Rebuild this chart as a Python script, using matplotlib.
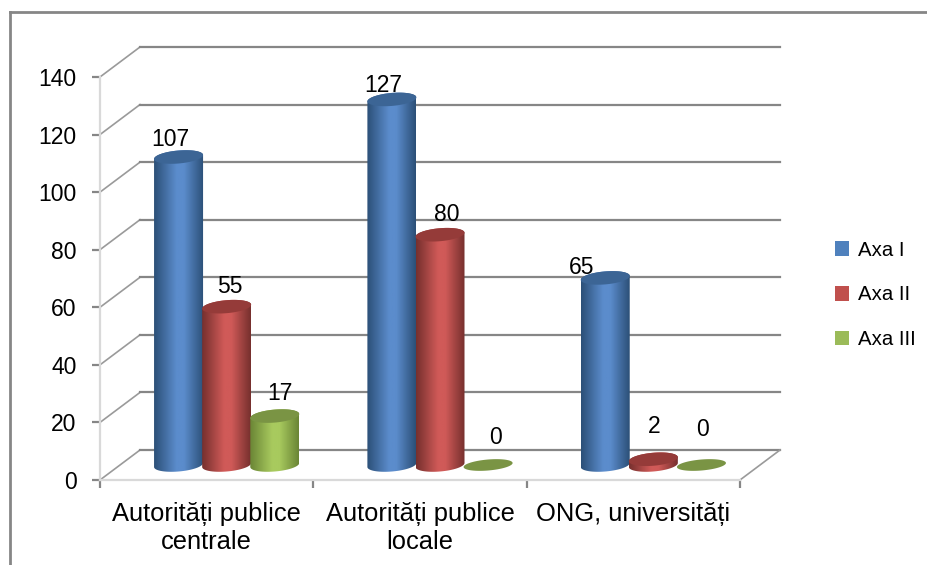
import numpy as np
import matplotlib
matplotlib.use('Agg')
import matplotlib.pyplot as plt
from matplotlib.colors import LinearSegmentedColormap
from matplotlib.lines import Line2D
from matplotlib.patches import Patch, Polygon

plt.rcParams['font.family'] = ['Liberation Sans', 'DejaVu Sans']

categories = ['Autorități publice\ncentrale', 'Autorități publice\nlocale', 'ONG, universități']
series_names = ['Axa I', 'Axa II', 'Axa III']
axa_1 = [107, 127, 65]
axa_2 = [55, 80, 2]
axa_3 = [17, 0, 0]
y_ticks = [0, 20, 40, 60, 80, 100, 120, 140]

# dark edge, bright middle, top ellipse, legend
colours = [('#2c5078', '#5b8ccc', '#3c6595', '#4f81bd'),
           ('#77302e', '#d05a58', '#953b39', '#c0504d'),
           ('#6b8636', '#a8ca5e', '#7a9444', '#9bbb59')]

# shift of the labels from the top of their bar (pixels)
label_dx = [[-8, 3, 5], [-9, 7, 7], [-24, 1, 1]]
label_dy = [[17, 20, 23], [14, 20, 27], [10, 33, 35]]

W, H = 927, 565
x0, x1 = 100, 740
y0, y1 = 480, 77
px_x = (x1 - x0) / 3
px_y = (y0 - y1) / 140
depth_x = 40 / px_x
depth_y = 30 / px_y
grid_col = '#868686'

fig = plt.figure(figsize=(W / 100, H / 100), dpi=100)
ax = fig.add_axes([x0 / W, 1 - y0 / H, (x1 - x0) / W, (y0 - y1) / H])
ax.set_xlim(0, 3)
ax.set_ylim(0, 140)
ax.patch.set_alpha(0)

# outer frame of the chart, cut by the picture on the right and at the bottom
fig.add_artist(Line2D([10 / W, 10 / W], [0, 1 - 12 / H], color=grid_col, lw=2))
fig.add_artist(Line2D([10 / W, 1], [1 - 12 / H, 1 - 12 / H], color=grid_col, lw=2))

# walls
for v in y_ticks:
    ax.plot([0, depth_x], [v, v + depth_y], color='#9a9a9a', lw=1.2, clip_on=False, zorder=1)
    ax.plot([depth_x, 3 + depth_x], [v + depth_y, v + depth_y], color=grid_col, lw=1.6,
            clip_on=False, zorder=1)
ax.plot([3, 3 + depth_x], [0, depth_y], color='#9a9a9a', lw=1.2, clip_on=False, zorder=1)

for s in ['top', 'right']:
    ax.spines[s].set_visible(False)
for s in ['left', 'bottom']:
    ax.spines[s].set_color('#d9d9d9')
    ax.spines[s].set_linewidth(1.6)

ax.set_yticks(y_ticks)
ax.tick_params(axis='y', labelsize=16.5, length=5.8, width=1.6, color=grid_col, pad=11)
ax.set_xticks([0, 1, 2, 3])
ax.set_xticklabels([])
ax.tick_params(axis='x', which='major', length=5.8, width=1.6, color=grid_col)
ax.set_xticks([0.5, 1.5, 2.5], minor=True)
ax.set_xticklabels(categories, minor=True, fontsize=18.4, linespacing=1.2)
ax.tick_params(axis='x', which='minor', length=0, pad=16)


def ellipse(cx, cy, t, half_h):
    xs = cx + 24.5 / px_x * np.cos(t)
    ys = cy + (half_h * np.sin(t) + 2 * np.cos(t)) / px_y
    return np.column_stack([xs, ys])


def cylinder(cx, value, cols, z):
    base = depth_y / 2
    top = base + value
    half_w = 24.5 / px_x
    if value > 0:
        low = ellipse(cx, base, np.linspace(np.pi, 2 * np.pi, 40), 6.5)
        up = ellipse(cx, top, np.linspace(0, np.pi, 40), 6.5)
        clip = Polygon(np.vstack([low, up]), transform=ax.transData)
        cmap = LinearSegmentedColormap.from_list('c', [(0, cols[0]), (0.45, cols[1]), (0.6, cols[1]),
                                                       (1, cols[0])])
        im = ax.imshow(np.linspace(0, 1, 64)[None, :], cmap=cmap, aspect='auto',
                       extent=(cx - half_w, cx + half_w, 0, top + 5), zorder=z)
        im.set_clip_path(clip)
    half_h = 6.5 if value > 0 else 5.5
    ax.add_patch(Polygon(ellipse(cx, top, np.linspace(0, 2 * np.pi, 80), half_h), closed=True,
                         facecolor=cols[2], edgecolor='none', zorder=z + 0.5, clip_on=False))


series = [axa_1, axa_2, axa_3]
for i in range(3):
    for j, vals in enumerate(series):
        cx = i + 0.5 + depth_x / 2 + (j - 1) * 0.2255
        cylinder(cx, vals[i], colours[j], 3 + i * 3 + j)
        ax.annotate(str(vals[i]), (cx, vals[i] + depth_y / 2),
                    xytext=(label_dx[i][j] * 0.72, label_dy[i][j] * 0.72), textcoords='offset points',
                    ha='center', va='center', fontsize=16.5, zorder=30, annotation_clip=False)

ax.set_xlim(0, 3)
ax.set_ylim(0, 140)

handles = [Patch(facecolor=c[3], edgecolor='none') for c in colours]
fig.legend(handles, series_names, loc='center left', bbox_to_anchor=(829 / W, 1 - 295 / H),
           frameon=False, fontsize=14.7, handlelength=0.7, handleheight=0.7, handletextpad=0.4,
           labelspacing=1.27, borderpad=0.3, borderaxespad=0)

fig.savefig('out.png', dpi=100)
